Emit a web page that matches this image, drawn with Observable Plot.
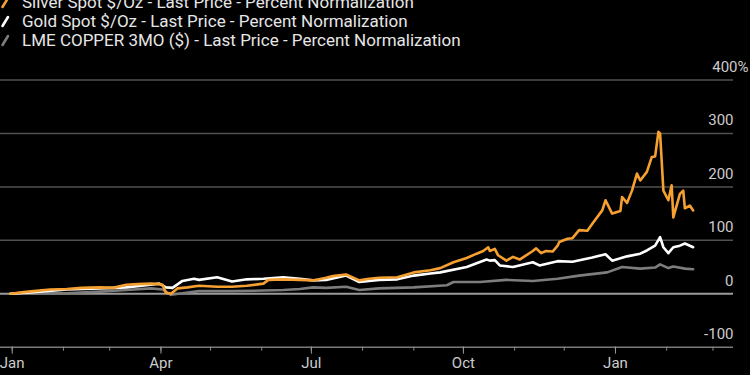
<!DOCTYPE html>
<html><head><meta charset="utf-8">
<script src="https://cdn.jsdelivr.net/npm/d3@7"></script>
<script src="https://cdn.jsdelivr.net/npm/@observablehq/plot@0.6"></script>
<style>
html,body{margin:0;padding:0;background:#000;width:750px;height:375px;overflow:hidden;font-family:Roboto,sans-serif}
#legend{position:relative;height:50px;overflow:hidden}
.row{position:absolute;left:0;height:20px;font-size:17px;line-height:20px;color:#e6e6e6;white-space:nowrap;width:750px}
.row svg{position:absolute;left:0;top:4px}
.row span{position:absolute;left:22px;top:0}
</style></head><body>
<div id="legend"></div><div id="chart"></div>
<script>
const seriesNames = ["Silver Spot $/Oz - Last Price - Percent Normalization","Gold Spot $/Oz - Last Price - Percent Normalization","LME COPPER 3MO ($) - Last Price - Percent Normalization"];
const seriesColors = ["#f5a030","#ffffff","#7d7d7d"];

const silverDates = ["2024-12-31","2025-01-08","2025-01-14","2025-01-24","2025-02-03","2025-02-12","2025-02-23","2025-03-03","2025-03-11","2025-03-18","2025-03-26","2025-03-31","2025-04-02","2025-04-04","2025-04-07","2025-04-11","2025-04-17","2025-04-24","2025-05-05","2025-05-14","2025-05-23","2025-06-02","2025-06-05","2025-06-14","2025-06-24","2025-07-02","2025-07-10","2025-07-14","2025-07-22","2025-07-30","2025-08-05","2025-08-11","2025-08-22","2025-09-01","2025-09-11","2025-09-17","2025-09-25","2025-10-03","2025-10-09","2025-10-13","2025-10-16","2025-10-17","2025-10-20","2025-10-22","2025-10-27","2025-10-31","2025-11-04","2025-11-12","2025-11-14","2025-11-17","2025-11-20","2025-11-24","2025-11-27","2025-11-28","2025-12-03","2025-12-06","2025-12-10","2025-12-15","2025-12-18","2025-12-24","2025-12-26","2025-12-29","2025-12-30","2026-01-04","2026-01-05","2026-01-08","2026-01-11","2026-01-14","2026-01-16","2026-01-20","2026-01-23","2026-01-25","2026-01-27","2026-01-28","2026-01-30","2026-02-02","2026-02-04","2026-02-05","2026-02-09","2026-02-11","2026-02-12","2026-02-15","2026-02-17"];
const silverPct = [0,3,5,8,9,11,12,11,17,18,19,18,17,2,0,10,12,15,13,13,15,19,26,27,26,25,30,33,36,25,28,30,31,40,44,48,59,67,75,80,87,80,84,72,62,69,64,80,85,76,80,79,90,97,103,104,119,118,131,156,175,156,150,155,181,170,193,225,212,228,256,257,303,300,193,175,203,143,187,193,160,165,156];

const goldDates = ["2024-12-31","2025-01-14","2025-02-03","2025-02-23","2025-03-11","2025-03-23","2025-03-31","2025-04-04","2025-04-08","2025-04-14","2025-04-21","2025-04-24","2025-05-05","2025-05-14","2025-05-23","2025-06-02","2025-06-14","2025-06-24","2025-07-02","2025-07-10","2025-07-22","2025-07-30","2025-08-11","2025-08-22","2025-09-01","2025-09-11","2025-09-17","2025-10-03","2025-10-15","2025-10-17","2025-10-20","2025-10-23","2025-10-31","2025-11-12","2025-11-16","2025-11-27","2025-12-06","2025-12-18","2025-12-26","2025-12-30","2026-01-08","2026-01-16","2026-01-20","2026-01-25","2026-01-28","2026-01-30","2026-02-02","2026-02-05","2026-02-09","2026-02-12","2026-02-17"];
const goldPct = [0,3,8,10,12,16,19,12,11,24,28,26,31,23,27,28,31,28,25,26,34,22,26,27,34,38,40,50,64,62,63,53,50,59,53,61,60,68,74,62,70,75,81,90,106,87,76,87,90,94,87];

const copperDates = ["2024-12-31","2025-01-14","2025-02-03","2025-02-23","2025-03-11","2025-03-26","2025-04-02","2025-04-07","2025-04-14","2025-04-24","2025-05-14","2025-06-02","2025-06-14","2025-06-24","2025-07-02","2025-07-10","2025-07-22","2025-07-30","2025-08-11","2025-09-01","2025-09-21","2025-09-25","2025-10-11","2025-10-27","2025-11-12","2025-11-27","2025-12-10","2025-12-27","2026-01-05","2026-01-16","2026-01-25","2026-01-28","2026-02-02","2026-02-05","2026-02-12","2026-02-17"];
const copperPct = [0,2,1,4,7,10,8,-2,1,5,5,6,7,9,12,11,13,7,10,12,16,22,22,26,24,28,34,40,50,47,49,55,48,51,47,46];

const gridValues = [400,300,200,100];
const yTickLabels = ["300","200","100","0","-100"];
const yTickValues = [300,200,100,0,-100];
const yTopLabel = "400%";

const parse = d3.utcParse("%Y-%m-%d");
const toRows = (dates, vals) => dates.map((d,i) => ({date: parse(d), v: vals[i]}));
const silver = toRows(silverDates, silverPct);
const gold = toRows(goldDates, goldPct);
const copper = toRows(copperDates, copperPct);

// legend
const legend = document.getElementById("legend");
seriesNames.forEach((name, i) => {
  const row = document.createElement("div");
  row.className = "row";
  row.style.top = (-8.4 + i*19.3) + "px";
  row.innerHTML = `<svg width="12" height="14"><line x1="2.5" y1="11" x2="8" y2="2" stroke="${seriesColors[i]}" stroke-width="2.6" stroke-linecap="round"/></svg><span>${name}</span>`;
  legend.appendChild(row);
});

const chart = Plot.plot({
  width: 750, height: 325,
  marginLeft: 0, marginRight: 17, marginTop: 29.5, marginBottom: 28.3,
  style: {background: "#000", color: "#cccccc", fontFamily: "Roboto, sans-serif", fontSize: "15px", overflow: "visible"},
  x: {type: "utc", domain: [new Date(Date.UTC(2024,11,24,22)), new Date(Date.UTC(2026,2,13,10))]},
  y: {domain: [-100, 400], axis: null},
  marks: [
    Plot.ruleY(gridValues, {stroke: "#505050", strokeWidth: 1.5}),
    Plot.ruleY([0], {stroke: "#9a9a9a", strokeWidth: 2}),
    Plot.ruleY([-100], {stroke: "#7a7a7a", strokeWidth: 1.5}),
    Plot.axisX({ticks: "month", tickSize: 4, tickFormat: () => "", stroke: "#8a8a8a"}),
    Plot.axisX({ticks: "3 months", tickSize: 7, tickPadding: 3, tickFormat: d3.utcFormat("%b"), stroke: "#9a9a9a", fill: "#cccccc", fontSize: 15}),
    Plot.text(yTickValues, {y: d => d, text: (d, i) => yTickLabels[i], frameAnchor: "right", textAnchor: "end", dy: -13, fill: "#cccccc", fontSize: 15}),
    Plot.text([400], {y: d => d, text: () => yTopLabel, frameAnchor: "right", textAnchor: "end", dx: 15, dy: -13, fill: "#cccccc", fontSize: 15}),
    Plot.line(copper, {x: "date", y: "v", stroke: seriesColors[2], strokeWidth: 2.6}),
    Plot.line(gold, {x: "date", y: "v", stroke: seriesColors[1], strokeWidth: 2.6}),
    Plot.line(silver, {x: "date", y: "v", stroke: seriesColors[0], strokeWidth: 2.6})
  ]
});
document.getElementById("chart").appendChild(chart);
</script></body></html>
